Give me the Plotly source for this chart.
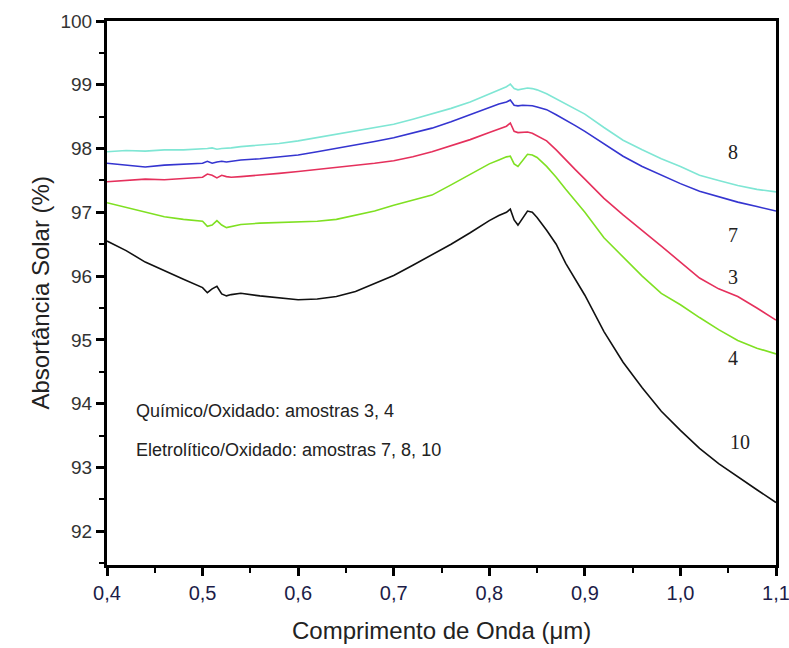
import plotly.graph_objects as go

wavelength = [0.40, 0.42, 0.44, 0.46, 0.48, 0.50, 0.505, 0.51, 0.515, 0.52, 0.525, 0.53, 0.54, 0.56, 0.58,
              0.60, 0.62, 0.64, 0.66, 0.68, 0.70, 0.72, 0.74, 0.76, 0.78, 0.80, 0.81, 0.818, 0.822, 0.826,
              0.83, 0.835, 0.84, 0.845, 0.85, 0.86, 0.87, 0.88, 0.89, 0.90, 0.92, 0.94, 0.96, 0.98, 1.00,
              1.02, 1.04, 1.06, 1.08, 1.10]

s10 = [96.55, 96.40, 96.22, 96.08, 95.95, 95.82, 95.74, 95.80, 95.84, 95.72, 95.69, 95.71, 95.73, 95.69, 95.66,
       95.63, 95.64, 95.68, 95.76, 95.88, 96.01, 96.17, 96.33, 96.50, 96.68, 96.87, 96.95, 97.00, 97.05, 96.88,
       96.80, 96.92, 97.02, 97.00, 96.92, 96.72, 96.50, 96.20, 95.95, 95.70, 95.13, 94.65, 94.25, 93.88, 93.58,
       93.30, 93.06, 92.85, 92.65, 92.45]

s4 = [97.15, 97.08, 97.00, 96.93, 96.89, 96.86, 96.78, 96.80, 96.87, 96.80, 96.76, 96.78, 96.81, 96.83, 96.84,
      96.85, 96.86, 96.89, 96.95, 97.02, 97.11, 97.19, 97.27, 97.43, 97.60, 97.76, 97.82, 97.87, 97.88, 97.76,
      97.72, 97.82, 97.91, 97.90, 97.86, 97.72, 97.55, 97.36, 97.18, 97.00, 96.60, 96.30, 96.00, 95.73, 95.55,
      95.35, 95.16, 94.99, 94.87, 94.78]

s3 = [97.48, 97.50, 97.52, 97.51, 97.53, 97.55, 97.60, 97.58, 97.54, 97.58, 97.56, 97.55, 97.56, 97.58, 97.61,
      97.64, 97.67, 97.70, 97.74, 97.77, 97.81, 97.87, 97.95, 98.04, 98.14, 98.25, 98.30, 98.35, 98.40, 98.27,
      98.25, 98.26, 98.26, 98.24, 98.20, 98.12, 97.98, 97.82, 97.67, 97.52, 97.22, 96.96, 96.72, 96.47, 96.22,
      95.97, 95.80, 95.68, 95.50, 95.31]

s7 = [97.77, 97.74, 97.71, 97.74, 97.76, 97.77, 97.80, 97.77, 97.79, 97.80, 97.79, 97.80, 97.82, 97.84, 97.87,
      97.90, 97.95, 98.00, 98.05, 98.11, 98.17, 98.24, 98.32, 98.42, 98.53, 98.65, 98.70, 98.73, 98.76, 98.68,
      98.67, 98.68, 98.68, 98.67, 98.65, 98.61, 98.53, 98.45, 98.36, 98.27, 98.07, 97.88, 97.72, 97.58, 97.45,
      97.33, 97.24, 97.16, 97.09, 97.02]

s8 = [97.95, 97.97, 97.96, 97.98, 97.98, 97.99, 98.00, 98.01, 97.99, 98.00, 98.00, 98.01, 98.03, 98.05, 98.08,
      98.12, 98.17, 98.22, 98.27, 98.32, 98.38, 98.46, 98.54, 98.63, 98.73, 98.85, 98.92, 98.97, 99.01, 98.94,
      98.92, 98.94, 98.95, 98.94, 98.92, 98.86, 98.78, 98.70, 98.63, 98.54, 98.33, 98.13, 97.98, 97.84, 97.72,
      97.58, 97.50, 97.42, 97.36, 97.32]

series_names = ["10", "4", "3", "7", "8"]
series_values = [s10, s4, s3, s7, s8]
series_colors = ["#111111", "#7fe022", "#e5305c", "#3535d0", "#7fe6d4"]

label_text = ["8", "7", "3", "4", "10"]
label_x = [1.055, 1.055, 1.055, 1.055, 1.062]
label_y = [97.95, 96.64, 95.98, 94.71, 93.40]

note_lines = ["Químico/Oxidado: amostras 3, 4", "Eletrolítico/Oxidado: amostras 7, 8, 10"]
note_y = [93.88, 93.28]

x_ticks = [0.4, 0.5, 0.6, 0.7, 0.8, 0.9, 1.0, 1.1]
y_ticks = [92, 93, 94, 95, 96, 97, 98, 99, 100]

fig = go.Figure()
for name, vals, col in zip(series_names, series_values, series_colors):
    fig.add_trace(go.Scatter(x=wavelength, y=vals, mode="lines", name=name,
                             line=dict(color=col, width=1.6), showlegend=False))

for t, xx, yy in zip(label_text, label_x, label_y):
    fig.add_annotation(x=xx, y=yy, text=t, showarrow=False,
                       font=dict(family="Liberation Serif", size=20, color="#222222"))

for t, yy in zip(note_lines, note_y):
    fig.add_annotation(x=0.428, y=yy, text=t, showarrow=False, xanchor="left",
                       font=dict(family="Liberation Sans", size=18, color="#222222"))

# axis titles placed in paper coordinates
fig.add_annotation(xref="paper", yref="paper", x=0.5, y=-0.149, text="Comprimento de Onda (μm)",
                   showarrow=False, font=dict(family="Liberation Sans", size=24, color="#222222"))
fig.add_annotation(xref="paper", yref="paper", x=-0.1226, y=0.5, text="Absortância Solar (%)",
                   showarrow=False, textangle=-90,
                   font=dict(family="Liberation Sans", size=24, color="#222222"))

axis_common = dict(showline=True, linecolor="black", linewidth=3, mirror=True,
                   ticks="outside", ticklen=8, tickwidth=3, tickcolor="black",
                   showgrid=False, zeroline=False, automargin=False, ticklabeloverflow="allow")

fig.update_xaxes(range=[0.4, 1.1], tickvals=x_ticks, tickformat=".1f",
                 minor=dict(ticks="outside", ticklen=5, tickwidth=2, tickcolor="black", dtick=0.05,
                            tick0=0.4),
                 tickfont=dict(family="Liberation Sans", size=20, color="#1c1c48"),
                 **axis_common)
fig.update_yaxes(range=[91.47, 100], tickvals=y_ticks,
                 minor=dict(ticks="outside", ticklen=5, tickwidth=2, tickcolor="black", dtick=0.5,
                            tick0=92),
                 tickfont=dict(family="Liberation Sans", size=19, color="#333333"),
                 **axis_common)

fig.update_layout(width=789, height=648, margin=dict(l=107, r=13, t=21, b=83),
                  paper_bgcolor="white", plot_bgcolor="white", separators=",.")

fig.write_html("out.html")
